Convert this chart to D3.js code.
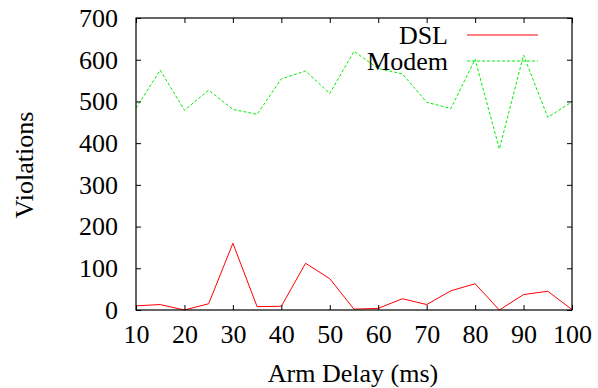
<!DOCTYPE html>
<html lang="en">
<head>
    <meta charset="UTF-8">
    <title>Violations vs Arm Delay</title>
    <style>
        body { margin: 0; background: #ffffff; }
        svg { display: block; }
    </style>
    <script src="https://d3js.org/d3.v7.min.js"></script>
</head>
<body>
    <svg width="598" height="388"></svg>
    <script>
        const armDelay = [10, 15, 20, 25, 30, 35, 40, 45, 50, 55, 60, 65, 70, 75, 80, 85, 90, 95, 100];
        const dsl = [10, 13, 0, 15, 160, 8, 9, 112, 75, 2, 4, 27, 13, 46, 63, 0, 37, 45, 1];
        const modem = [484, 575, 479, 527, 481, 469, 554, 573, 519, 620, 579, 566, 498, 483, 601, 386, 611, 462, 499];
        const xTicks = [10, 20, 30, 40, 50, 60, 70, 80, 90, 100];
        const yTicks = [0, 100, 200, 300, 400, 500, 600, 700];

        const svg = d3.select("svg");
        const plot = { left: 136, right: 572, top: 18, bottom: 310 };
        const fontSize = 26;
        const serif = '"Liberation Serif", "Times New Roman", serif';

        const x = d3.scaleLinear().domain([10, 100]).range([plot.left, plot.right]);
        const y = d3.scaleLinear().domain([0, 700]).range([plot.bottom, plot.top]);

        // series
        const line = d3.line()
            .x((d, i) => x(armDelay[i]))
            .y(d => y(d));

        svg.append("path")
            .datum(modem)
            .attr("d", line)
            .attr("fill", "none")
            .attr("stroke", "#00ee00")
            .attr("stroke-width", 1)
            .attr("stroke-dasharray", "3,2");

        svg.append("path")
            .datum(dsl)
            .attr("d", line)
            .attr("fill", "none")
            .attr("stroke", "#ff0000")
            .attr("stroke-width", 1);

        // axes, ticks inward on all sides
        const tickLen = 5;
        svg.append("g")
            .attr("transform", `translate(0,${plot.bottom})`)
            .call(d3.axisBottom(x).tickValues(xTicks).tickSizeInner(-tickLen).tickSizeOuter(0).tickPadding(15))
            .call(g => g.select(".domain").remove());
        svg.append("g")
            .attr("transform", `translate(0,${plot.top})`)
            .call(d3.axisTop(x).tickValues(xTicks).tickSizeInner(-tickLen).tickSizeOuter(0).tickFormat(""))
            .call(g => g.select(".domain").remove());
        svg.append("g")
            .attr("transform", `translate(${plot.left},0)`)
            .call(d3.axisLeft(y).tickValues(yTicks).tickSizeInner(-tickLen).tickSizeOuter(0).tickPadding(18))
            .call(g => g.select(".domain").remove());
        svg.append("g")
            .attr("transform", `translate(${plot.right},0)`)
            .call(d3.axisRight(y).tickValues(yTicks).tickSizeInner(-tickLen).tickSizeOuter(0).tickFormat(""))
            .call(g => g.select(".domain").remove());

        svg.selectAll(".tick line").attr("stroke", "#000");

        svg.append("rect")
            .attr("x", plot.left).attr("y", plot.top)
            .attr("width", plot.right - plot.left).attr("height", plot.bottom - plot.top)
            .attr("fill", "none")
            .attr("stroke", "#000")
            .attr("stroke-width", 1.2);

        // axis titles
        svg.append("text")
            .attr("x", 353)
            .attr("y", 382)
            .attr("text-anchor", "middle")
            .text("Arm Delay (ms)");

        svg.append("text")
            .attr("transform", `translate(33,165) rotate(-90)`)
            .attr("text-anchor", "middle")
            .text("Violations");

        // legend
        const legend = [
            { name: "DSL", color: "#ff0000", dash: null },
            { name: "Modem", color: "#00ee00", dash: "3,2" }
        ];
        const lg = svg.append("g");
        legend.forEach((d, i) => {
            const ly = 35 + i * 26;
            lg.append("text")
                .attr("x", 448)
                .attr("y", ly + 9)
                .attr("text-anchor", "end")
                .text(d.name);
            lg.append("line")
                .attr("x1", 467).attr("x2", 538)
                .attr("y1", ly).attr("y2", ly)
                .attr("stroke", d.color)
                .attr("stroke-width", 1)
                .attr("stroke-dasharray", d.dash);
        });

        svg.selectAll("text")
            .style("font-family", serif)
            .style("font-size", fontSize + "px")
            .attr("fill", "#000");
    </script>
</body>
</html>
